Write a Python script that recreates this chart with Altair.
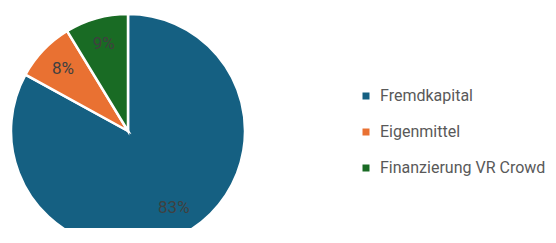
import altair as alt
import pandas as pd

categories = ["Fremdkapital", "Eigenmittel", "Finanzierung VR Crowd"]
values = [83.0, 8.3, 8.7]
labels = ["83%", "8%", "9%"]
colors = ["#156082", "#E97132", "#196B24"]

df = pd.DataFrame({"cat": categories, "val": values, "lab": labels, "ord": list(range(len(categories)))})

FONT = "Roboto"
cx, cy = 120, 123

base = alt.Chart(df).encode(
    theta=alt.Theta("val:Q", stack=True),
    order=alt.Order("ord:Q"),
)

arcs = base.mark_arc(radius=117, stroke="white", strokeWidth=2.5).encode(
    x=alt.value(cx),
    y=alt.value(cy),
    color=alt.Color(
        "cat:N",
        scale=alt.Scale(domain=categories, range=colors),
        sort=categories,
        legend=alt.Legend(
            title=None,
            orient="none",
            legendX=350,
            legendY=80,
            symbolType="square",
            symbolSize=49,
            symbolStrokeWidth=0,
            labelFont=FONT,
            labelFontSize=16,
            labelColor="#595959",
            labelLimit=400,
            labelOffset=6,
            rowPadding=20,
            padding=0,
        ),
    ),
)

text = base.mark_text(radius=90, font=FONT, fontSize=17, color="#404040").encode(
    x=alt.value(cx),
    y=alt.value(cy),
    text="lab:N",
)

chart = (
    alt.layer(arcs, text)
    .properties(width=540, height=220, padding=0, autosize=alt.AutoSizeParams(type="none"))
    .configure_view(stroke=None)
)

chart.save("out.html", embed_options={"renderer": "svg", "actions": False})
